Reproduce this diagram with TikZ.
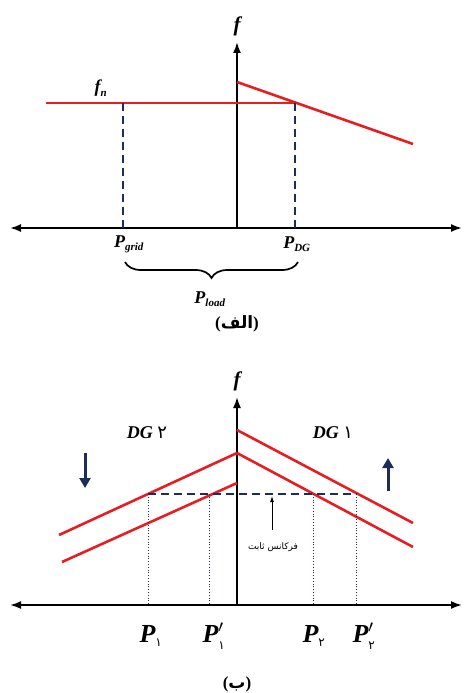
\documentclass[tikz,border=0pt]{standalone}
\usepackage{fontspec}
\setmainfont{Liberation Serif}
\newfontfamily\fafont[Script=Arabic]{DejaVu Sans}
\usepackage{xcolor}
\usepackage{tikz}
\usetikzlibrary{arrows.meta, positioning, calc, decorations.pathreplacing}
\TeXXeTstate=1

\definecolor{droopred}{RGB}{230,30,36}
\definecolor{navy}{RGB}{28,45,92}

% small persian digit / latin subscript
\newcommand{\fasub}[1]{\mbox{\fafont\mdseries\upshape\fontsize{12}{12}\selectfont #1}}
\newcommand{\lasub}[1]{\mbox{\fontsize{11}{11}\selectfont #1}}

\begin{document}
\begin{tikzpicture}[
    x=1pt, y=-1pt,
    axisline/.style={line width=1.8pt, {Latex[length=11pt,width=8pt]}-{Latex[length=11pt,width=8pt]}},
    yaxisline/.style={line width=1.8pt, -{Latex[length=11pt,width=8pt]}},
    droop/.style={droopred, line width=2.6pt},
    guide/.style={navy, line width=1.1pt, dash pattern=on 8pt off 5pt},
    dropline/.style={navy, line width=0.8pt, dotted},
    shiftarrow/.style={navy, line width=3pt, -{Triangle[length=10pt,width=11pt]}},
    lbl/.style={font=\fontsize{18}{20}\selectfont\bfseries\itshape},
    biglbl/.style={font=\fontsize{26}{28}\selectfont\bfseries\itshape},
    captxt/.style={font=\fontsize{17}{20}\selectfont\bfseries}
  ]
  \useasboundingbox (0,0) rectangle (464,693);

  % ---- (a) ----
  \coordinate (oA) at (237,228);
  \coordinate (lA) at (10,228);
  \coordinate (rA) at (462,228);
  \coordinate (tA) at (237,42);
  \draw[axisline] (lA) -- (rA);
  \draw[yaxisline] (oA) -- (tA);
  \node[lbl, font=\fontsize{21}{22}\selectfont\bfseries\itshape] (fA) at (237,26) {f};

  \coordinate (fnL) at (46,103);
  \coordinate (fnR) at (295,103);
  \coordinate (dgT) at (237,82);
  \coordinate (dgB) at (413,144);
  \draw[droop] (fnL) -- (fnR);
  \draw[droop] (dgT) -- (dgB);
  \node[lbl] (fn) at (101,88) {$\mbox{f}_{\lasub{n}}$};

  \coordinate (gT) at (123,103);
  \coordinate (gB) at (123,228);
  \coordinate (dT) at (295,103);
  \coordinate (dB) at (295,228);
  \draw[guide] (gT) -- (gB);
  \draw[guide] (dT) -- (dB);

  \node[lbl] (pgrid) at (129,244) {$\mbox{P}_{\lasub{grid}}$};
  \node[lbl] (pdg) at (297,244) {$\mbox{P}_{\lasub{DG}}$};
  \coordinate (bL) at (125,262);
  \coordinate (bR) at (298,262);
  \draw[line width=1.7pt, decorate, decoration={brace, amplitude=16pt, mirror}] (bL) -- (bR);
  \node[lbl] (pload) at (210,299) {$\mbox{P}_{\lasub{load}}$};
  \node[captxt] (capA) at (237,324) {({\fafont\beginR الف\endR})};

  % ---- (b) ----
  \coordinate (oB) at (237,605);
  \coordinate (lB) at (10,605);
  \coordinate (rB) at (462,605);
  \coordinate (tB) at (237,397);
  \draw[axisline] (lB) -- (rB);
  \draw[yaxisline] (oB) -- (tB);
  \node[lbl, font=\fontsize{21}{22}\selectfont\bfseries\itshape] (fB) at (237,381) {f};

  \coordinate (r1T) at (237,430);
  \coordinate (r1B) at (413,523);
  \coordinate (r2T) at (237,453);
  \coordinate (r2B) at (413,547);
  \coordinate (l1B) at (59,535);
  \coordinate (l2T) at (237,483);
  \coordinate (l2B) at (62,562);
  \draw[droop] (r1T) -- (r1B);
  \draw[droop] (r2T) -- (r2B);
  \draw[droop] (r2T) -- (l1B);
  \draw[droop] (l2T) -- (l2B);

  \coordinate (hL) at (148,494);
  \coordinate (hR) at (357,494);
  \draw[guide] (hL) -- (hR);
  \foreach \px/\nm in {148/p1, 209/p1p, 313/p2, 356/p2p} {
    \coordinate (\nm T) at (\px,494);
    \coordinate (\nm B) at (\px,605);
    \draw[dropline] (\nm T) -- (\nm B);
  }

  \coordinate (cfB) at (272,530);
  \coordinate (cfT) at (272,496);
  \draw[line width=0.9pt, -{Latex[length=6pt,width=4pt]}] (cfB) -- (cfT);
  \node[font=\fafont\fontsize{9}{10}\selectfont] (cf) at (273,547) {\beginR فرکانس ثابت\endR};

  \node[lbl] (dg2) at (147,433) {DG \fafont\mdseries\upshape ۲};
  \node[lbl] (dg1) at (333,433) {DG \fafont\mdseries\upshape ۱};

  \coordinate (dnT) at (85,453);
  \coordinate (dnB) at (85,488);
  \coordinate (upB) at (388,491);
  \coordinate (upT) at (388,458);
  \draw[shiftarrow] (dnT) -- (dnB);
  \draw[shiftarrow] (upB) -- (upT);

  \node[biglbl] (P1) at (151,636) {$\mbox{P}_{\fasub{۱}}$};
  \node[biglbl] (P1p) at (214,636) {$\mbox{P}'_{\fasub{۱}}$};
  \node[biglbl] (P2) at (314,636) {$\mbox{P}_{\fasub{۲}}$};
  \node[biglbl] (P2p) at (364,636) {$\mbox{P}'_{\fasub{۲}}$};
  \node[captxt] (capB) at (237,684) {({\fafont\beginR ب\endR})};
\end{tikzpicture}
\end{document}
